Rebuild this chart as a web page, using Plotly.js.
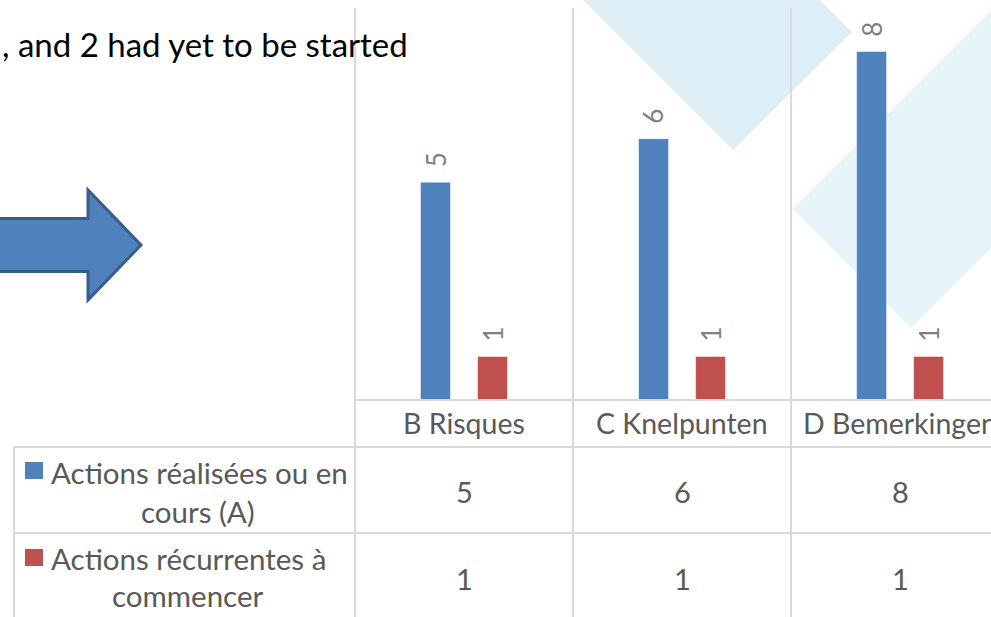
<!DOCTYPE html>
<html>
<head>
<meta charset="utf-8">
<script src="https://cdn.plot.ly/plotly-3.0.1.min.js"></script>
<style>html,body{margin:0;padding:0;background:#fff;overflow:hidden}#chart{width:991px;height:617px}</style>
</head>
<body>
<div id="chart"></div>
<script>
// ---- data ----
const categories = ['B Risques', 'C Knelpunten', 'D Bemerkingen'];
const seriesNames = ['Actions réalisées ou en cours (A)', 'Actions récurrentes à commencer'];
const seriesLabelLines = [['Actions réalisées ou en', 'cours (A)'], ['Actions récurrentes à', 'commencer']];
const actionsRealisees = [5, 6, 8];
const actionsRecurrentes = [1, 1, 1];
const headline = ', and 2 had yet to be started';

// ---- layout geometry (pixels) ----
const W = 991, H = 617;
const ML = 355, MT = 8, MB = 217, MR = 0;
const PW = W - ML - MR, PH = H - MT - MB;
const px = x => (x - ML) / PW;          // pixel x -> paper x
const py = y => (H - MB - y) / PH;      // pixel y -> paper y
const xr = [-0.5, 2.417];
const catPx = c => ML + (c - xr[0]) / (xr[1] - xr[0]) * PW;

const colors = ['#4f81bd', '#c0504d'];
const txt = '#595959';
const grid = '#d9d9d9';
const FONT = 'Lato, "Open Sans", sans-serif';

const series = [actionsRealisees, actionsRecurrentes];

const traces = series.map((vals, k) => ({
  type: 'bar',
  name: seriesNames[k],
  x: categories,
  y: vals,
  marker: {color: colors[k], line: {color: 'rgba(255,255,255,0.5)', width: 1}},
  hoverinfo: 'skip',
  showlegend: false
}));

const shapes = [];
// background decorative diamonds
const pathPx = pts => pts.map((p, i) => (i ? 'L' : 'M') + px(p[0]).toFixed(5) + ',' + py(p[1]).toFixed(5)).join(' ') + ' Z';
shapes.push({type: 'path', xref: 'paper', yref: 'paper', layer: 'below', line: {width: 0},
  fillcolor: '#deeef6', path: pathPx([[583, 0], [733, 150], [852, 32], [820, 0]])});
shapes.push({type: 'path', xref: 'paper', yref: 'paper', layer: 'below', line: {width: 0},
  fillcolor: '#e6f4f9', path: pathPx([[793, 209], [911, 328], [1000, 239], [1000, 2]])});

// block arrow
shapes.push({type: 'path', xref: 'paper', yref: 'paper', layer: 'above',
  fillcolor: '#4f81bd', line: {color: '#385d8a', width: 3},
  path: pathPx([[-10, 218.5], [88, 218.5], [88, 190], [141, 245], [88, 300], [88, 271.5], [-10, 271.5]])});

// gridlines / data table lines
const line = (x0, y0, x1, y1) => shapes.push({type: 'line', xref: 'paper', yref: 'paper', layer: 'above',
  x0: px(x0), y0: py(y0), x1: px(x1), y1: py(y1), line: {color: grid, width: 2}});
[-0.5, 0.5, 1.5].forEach(b => line(catPx(b), MT, catPx(b), H + 5));
line(ML, H - MB, W + 5, H - MB);
line(14, 447, W + 5, 447);
line(14, 533, W + 5, 533);
line(14, 447, 14, H + 5);

// legend keys
const keyY = [[462, 479], [549, 566]];
keyY.forEach((yy, k) => shapes.push({type: 'rect', xref: 'paper', yref: 'paper', layer: 'above',
  x0: px(25), x1: px(43), y0: py(yy[0]), y1: py(yy[1]), fillcolor: colors[k], line: {width: 0}}));

const annotations = [];
// headline text behind chart
annotations.push({xref: 'paper', yref: 'paper', x: px(0), y: py(44), xanchor: 'left', yanchor: 'middle',
  text: headline, showarrow: false, font: {family: FONT, size: 33, color: '#000000'}});

// rotated data labels above bars
const shift = [-28.5, 28.5];
series.forEach((vals, k) => vals.forEach((v, i) => annotations.push({
  xref: 'x', yref: 'y', x: categories[i], y: v, xshift: shift[k], yshift: 13,
  xanchor: 'center', yanchor: 'bottom', textangle: -90, showarrow: false,
  text: String(v), font: {family: FONT, size: 26, color: '#808080'}
})));

// category header row
categories.forEach(c => annotations.push({xref: 'x', yref: 'paper', x: c, y: py(423),
  xanchor: 'center', yanchor: 'middle', showarrow: false, text: c,
  font: {family: FONT, size: 28.5, color: txt}}));

// table values
const rowY = [491, 578];
series.forEach((vals, k) => vals.forEach((v, i) => annotations.push({
  xref: 'x', yref: 'paper', x: categories[i], y: py(rowY[k]), xanchor: 'center', yanchor: 'middle',
  showarrow: false, text: String(v), font: {family: FONT, size: 29, color: txt}
})));

// row (legend) labels
const labelPos = [[[199, 472], [198, 512]], [[188, 558], [188, 595]]];
seriesLabelLines.forEach((lines, k) => lines.forEach((t, j) => annotations.push({
  xref: 'paper', yref: 'paper', x: px(labelPos[k][j][0]), y: py(labelPos[k][j][1]),
  xanchor: 'center', yanchor: 'middle', showarrow: false, text: t,
  font: {family: FONT, size: 29.5, color: txt}
})));

const layout = {
  width: W, height: H,
  margin: {l: ML, r: MR, t: MT, b: MB, pad: 0},
  paper_bgcolor: '#ffffff', plot_bgcolor: 'rgba(0,0,0,0)',
  barmode: 'group', bargap: 0.477, bargroupgap: 0.474,
  showlegend: false,
  xaxis: {type: 'category', range: xr, showticklabels: false, showgrid: false, zeroline: false,
          showline: false, ticks: '', fixedrange: true},
  yaxis: {range: [0, 9], showticklabels: false, showgrid: false, zeroline: false,
          showline: false, ticks: '', fixedrange: true},
  font: {family: FONT, color: txt},
  shapes: shapes,
  annotations: annotations
};

Plotly.newPlot('chart', traces, layout, {staticPlot: true, displayModeBar: false});
</script>
</body>
</html>
